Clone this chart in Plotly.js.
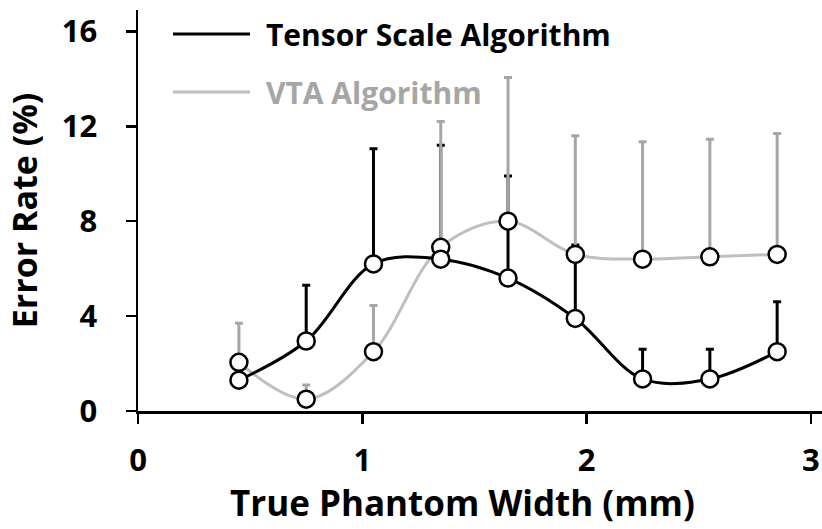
<!DOCTYPE html>
<html>
<head>
<meta charset="utf-8">
<script src="https://cdn.plot.ly/plotly-3.0.1.min.js"></script>
<style>html,body{margin:0;padding:0;background:#fff;}#chart{width:822px;height:529px;}</style>
</head>
<body>
<div id="chart"></div>
<script>
// Data
const widths = [0.45, 0.75, 1.05, 1.35, 1.65, 1.95, 2.25, 2.55, 2.85];
const tensorRate = [1.3, 2.95, 6.2, 6.4, 5.6, 3.9, 1.35, 1.35, 2.5];
const tensorUpper = [1.6, 5.3, 11.05, 11.2, 9.9, 7.0, 2.6, 2.6, 4.6];
const vtaRate = [2.05, 0.5, 2.5, 6.9, 8.0, 6.6, 6.4, 6.5, 6.6];
const vtaUpper = [3.7, 1.1, 4.45, 12.2, 14.05, 11.6, 11.35, 11.45, 11.7];
const seriesNames = ["Tensor Scale Algorithm", "VTA Algorithm"];
const xTicks = [0, 1, 2, 3];
const yTicks = [0, 4, 8, 12, 16];
const xTitle = "True Phantom Width (mm)";
const yTitle = "Error Rate (%)";

const FONT = "'Open Sans', 'Noto Sans', sans-serif";
const BLACK = "#000000";
const GRAY_LINE = "#BFBFBF";
const GRAY_BAR = "#A6A6A6";

const diff = (u, v) => u.map((val, i) => val - v[i]);
const zeros = widths.map(() => 0);

const errTrace = (y, upper, color) => ({
  x: widths, y: y, type: "scatter", mode: "markers",
  marker: {size: 1, opacity: 0},
  error_y: {type: "data", symmetric: false, array: diff(upper, y), arrayminus: zeros,
            color: color, thickness: 3, width: 4},
  showlegend: false, hoverinfo: "skip"
});
const lineTrace = (y, color, name) => ({
  x: widths, y: y, type: "scatter", mode: "lines", name: name,
  line: {color: color, width: 3, shape: "spline", smoothing: 1},
  showlegend: false
});
const markerTrace = (y, name) => ({
  x: widths, y: y, type: "scatter", mode: "markers", name: name,
  marker: {size: 17, color: "#ffffff", line: {color: BLACK, width: 2.5}},
  showlegend: false
});

const data = [
  errTrace(tensorRate, tensorUpper, BLACK),
  errTrace(vtaRate, vtaUpper, GRAY_BAR),
  lineTrace(vtaRate, GRAY_LINE, seriesNames[1]),
  lineTrace(tensorRate, BLACK, seriesNames[0]),
  markerTrace(vtaRate, seriesNames[1]),
  markerTrace(tensorRate, seriesNames[0])
];

const layout = {
  width: 822, height: 529,
  margin: {l: 138, r: 0, t: 10, b: 118},
  paper_bgcolor: "#ffffff", plot_bgcolor: "#ffffff",
  font: {family: FONT, color: BLACK},
  showlegend: false,
  xaxis: {
    range: [0, 3.05], tickvals: xTicks, ticktext: xTicks.map(String),
    ticks: "outside", ticklen: 10, tickwidth: 2.5, tickcolor: BLACK,
    showline: true, linecolor: BLACK, linewidth: 2.5, showgrid: false, zeroline: false,
    tickfont: {family: FONT, size: 31, color: BLACK, weight: "bold"},
    ticklabelstandoff: 10
  },
  yaxis: {
    range: [0, 16.9], tickvals: yTicks, ticktext: yTicks.map(String),
    ticks: "outside", ticklen: 10, tickwidth: 2.5, tickcolor: BLACK,
    showline: true, linecolor: BLACK, linewidth: 2.5, showgrid: false, zeroline: false,
    tickfont: {family: FONT, size: 31, color: BLACK, weight: "bold"},
    ticklabelstandoff: 22,
    title: {text: yTitle, font: {family: FONT, size: 34, color: BLACK, weight: "bold"}, standoff: 14}
  },
  shapes: [
    {type: "line", xref: "paper", yref: "paper", x0: (173-138)/684, x1: (250-138)/684, y0: (411-34)/401, y1: (411-34)/401,
     line: {color: BLACK, width: 3}},
    {type: "line", xref: "paper", yref: "paper", x0: (173-138)/684, x1: (250-138)/684, y0: (411-92)/401, y1: (411-92)/401,
     line: {color: GRAY_LINE, width: 3}}
  ],
  annotations: [
    {xref: "paper", yref: "paper", x: (264-138)/684, y: (411-34)/401, xanchor: "left", yanchor: "middle", showarrow: false,
     text: seriesNames[0], font: {family: FONT, size: 30, color: BLACK, weight: "bold"}},
    {xref: "paper", yref: "paper", x: (264-138)/684, y: (411-92)/401, xanchor: "left", yanchor: "middle", showarrow: false,
     text: seriesNames[1], font: {family: FONT, size: 30, color: GRAY_BAR, weight: "bold"}},
    {xref: "paper", yref: "paper", x: (462-138)/684, y: (411-503)/401, xanchor: "center", yanchor: "middle", showarrow: false,
     text: xTitle, font: {family: FONT, size: 35, color: BLACK, weight: "bold"}}
  ]
};

Plotly.newPlot("chart", data, layout, {displayModeBar: false, staticPlot: true});
</script>
</body>
</html>
